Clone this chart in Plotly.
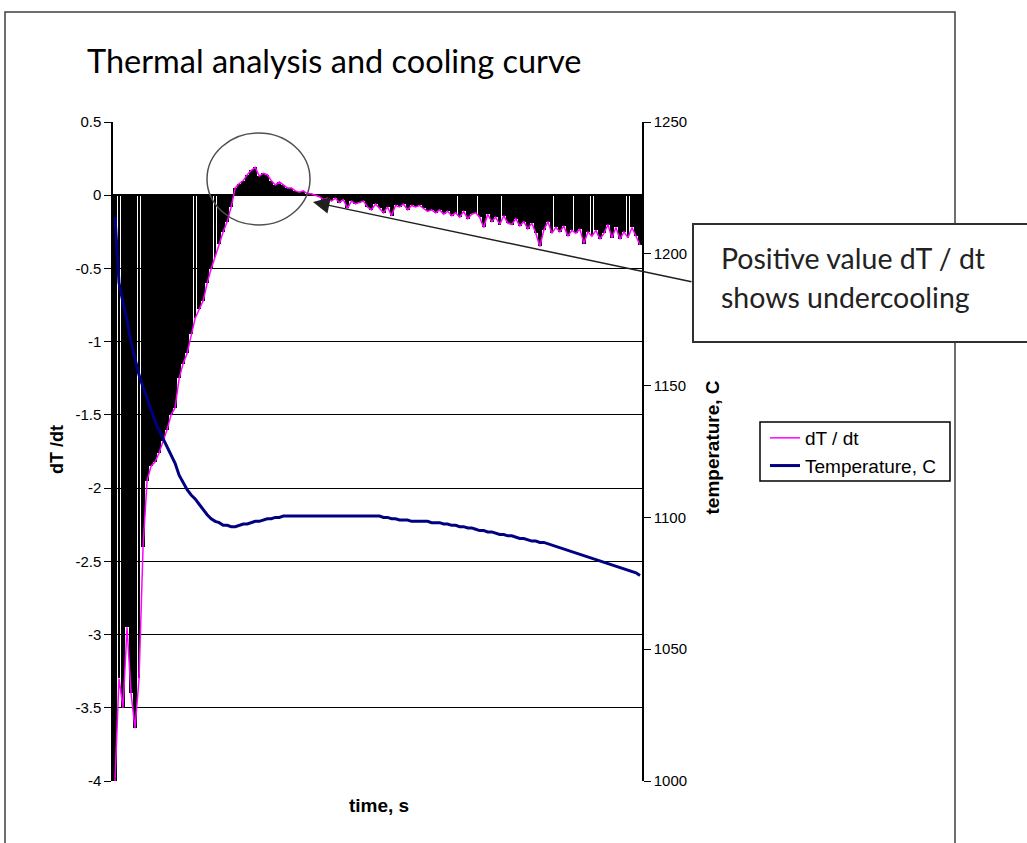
import plotly.graph_objects as go

# ---------------- data ----------------
dtdt = [-4.0, -3.3, -3.5, -2.95, -3.4, -3.64, -3.3, -2.4, -1.95, -1.85,
        -1.82, -1.76, -1.68, -1.6, -1.5, -1.45, -1.25, -1.15, -1.08, -0.95,
        -0.84, -0.78, -0.72, -0.6, -0.5, -0.42, -0.33, -0.25, -0.18, -0.08,
        0.05, 0.08, 0.1, 0.14, 0.17, 0.19, 0.13, 0.15, 0.14, 0.1,
        0.07, 0.09, 0.07, 0.05, 0.05, 0.03, 0.02, 0.03, 0.01, 0.01,
        0.0, -0.01, -0.03, -0.02, -0.04, -0.02, -0.05, -0.03, -0.09, -0.04,
        -0.06, -0.05, -0.04, -0.08, -0.1, -0.06, -0.09, -0.12, -0.08, -0.14,
        -0.07, -0.08, -0.06, -0.1, -0.07, -0.08, -0.07, -0.09, -0.11, -0.1,
        -0.12, -0.1, -0.13, -0.11, -0.14, -0.12, -0.15, -0.11, -0.16, -0.13,
        -0.12, -0.15, -0.22, -0.13, -0.18, -0.15, -0.2, -0.14, -0.19, -0.2,
        -0.16, -0.21, -0.18, -0.23, -0.19, -0.26, -0.35, -0.24, -0.18, -0.26,
        -0.22, -0.25, -0.21, -0.28, -0.24, -0.26, -0.23, -0.33, -0.25, -0.28,
        -0.24, -0.3, -0.26, -0.2, -0.29, -0.22, -0.3, -0.25, -0.29, -0.22,
        -0.28, -0.34]

temperature = [1214, 1189, 1181.5, 1175, 1166.5, 1160, 1154, 1149.5, 1145, 1140.5,
               1136.5, 1133, 1130, 1127, 1123.5, 1120.5, 1116, 1113, 1110.5, 1108.5,
               1107, 1105, 1103, 1101, 1099.5, 1098.5, 1098, 1097, 1097, 1096.5,
               1096.5, 1097, 1097.5, 1097.5, 1098, 1098.5, 1098.5, 1099, 1099.5, 1099.5,
               1100, 1100, 1100.5, 1100.5, 1100.5, 1100.5, 1100.5, 1100.5, 1100.5, 1100.5,
               1100.5, 1100.5, 1100.5, 1100.5, 1100.5, 1100.5, 1100.5, 1100.5, 1100.5, 1100.5,
               1100.5, 1100.5, 1100.5, 1100.5, 1100.5, 1100.5, 1100.5, 1100, 1100, 1099.5,
               1099.5, 1099, 1099, 1099, 1098.5, 1098.5, 1098.5, 1098.5, 1098.5, 1098,
               1098, 1098, 1097.5, 1097.5, 1097, 1097, 1096.5, 1096.5, 1096, 1096,
               1095.5, 1095, 1095, 1094.5, 1094.5, 1094, 1093.5, 1093.5, 1093, 1093,
               1092.5, 1092, 1092, 1091.5, 1091, 1091, 1090.5, 1090.5, 1090, 1089.5,
               1089, 1088.5, 1088, 1087.5, 1087, 1086.5, 1086, 1085.5, 1085, 1084.5,
               1084, 1083.5, 1083, 1082.5, 1082, 1081.5, 1081, 1080.5, 1080, 1079.5,
               1079, 1078]

time_s = list(range(len(dtdt)))

left_tickvals = [0.5, 0, -0.5, -1, -1.5, -2, -2.5, -3, -3.5, -4]
left_ticktext = ["0.5", "0", "-0.5", "-1", "-1.5", "-2", "-2.5", "-3", "-3.5", "-4"]
right_tickvals = [1000, 1050, 1100, 1150, 1200, 1250]
right_ticktext = ["1000", "1050", "1100", "1150", "1200", "1250"]

title_text = "Thermal analysis and cooling curve"
note_lines = ["Positive value dT / dt", "shows undercooling"]

# samples where the drop-line fill shows thin white gaps in the original
gap_samples = [1, 6, 20, 25, 85, 90, 96, 109, 114, 119, 128]

# ---------------- layout helpers (pixel -> paper) ----------------
W, H = 1027, 843
L, R, T, B = 113, 642, 122, 781


def xp(px):
    return (px - L) / (R - L)


def yp(py):
    return (B - py) / (B - T)


ARIAL = "Liberation Sans, Arial, sans-serif"
CAL = "Lato, Open Sans, sans-serif"

bar_widths = [0.45 if i in gap_samples else 1.0 for i in time_s]

fig = go.Figure()
fig.add_trace(go.Bar(x=time_s, y=dtdt, width=bar_widths,
                     marker=dict(color="black", line=dict(width=0)),
                     showlegend=False, hoverinfo="skip"))
fig.add_trace(go.Scatter(x=time_s, y=dtdt, mode="lines", name="dT / dt",
                         line=dict(color="#FF00FF", width=1.5)))
fig.add_trace(go.Scatter(x=time_s, y=temperature, mode="lines", name="Temperature, C",
                         yaxis="y2", line=dict(color="#000080", width=3)))

fig.update_layout(
    width=W, height=H,
    margin=dict(l=L, r=W - R, t=T, b=H - B, pad=0),
    paper_bgcolor="white", plot_bgcolor="white",
    bargap=0,
    showlegend=True,
    legend=dict(x=xp(765), y=yp(419), xanchor="left", yanchor="top",
                borderwidth=0, bgcolor="rgba(0,0,0,0)",
                font=dict(family=ARIAL, size=19, color="black"),
                tracegroupgap=0, itemwidth=30),
    xaxis=dict(range=[-0.5, len(dtdt) - 0.5], showticklabels=False, ticks="",
               showgrid=False, zeroline=False, showline=False),
    yaxis=dict(range=[-4, 0.5], tickvals=left_tickvals, ticktext=left_ticktext,
               ticks="outside", ticklen=7, tickcolor="black", tickwidth=1,
               showline=True, linecolor="black", linewidth=1.5,
               showgrid=True, gridcolor="black", gridwidth=1,
               zeroline=True, zerolinecolor="black", zerolinewidth=2,
               tickfont=dict(family=ARIAL, size=15, color="black")),
    yaxis2=dict(range=[1000, 1250], tickvals=right_tickvals, ticktext=right_ticktext,
                overlaying="y", side="right",
                ticks="outside", ticklen=7, tickcolor="black", tickwidth=1,
                showline=True, linecolor="black", linewidth=1.5,
                showgrid=False, zeroline=False,
                tickfont=dict(family=ARIAL, size=15, color="black")),
)

shapes = [
    # outer chart border
    dict(type="rect", xref="paper", yref="paper", x0=xp(5), x1=xp(955), y0=yp(870), y1=yp(12),
         line=dict(color="#404040", width=1.5), layer="below"),
    # legend frame
    dict(type="rect", xref="paper", yref="paper", x0=xp(760), x1=xp(950), y0=yp(481), y1=yp(422),
         line=dict(color="black", width=1.5), fillcolor="white", layer="below"),
    # ellipse around the positive peak
    dict(type="circle", xref="paper", yref="paper", x0=xp(207), x1=xp(310), y0=yp(225), y1=yp(133),
         line=dict(color="#505050", width=1.5), layer="above"),
    # callout box
    dict(type="rect", xref="paper", yref="paper", x0=xp(693), x1=xp(1045), y0=yp(342), y1=yp(224),
         line=dict(color="#303030", width=2), fillcolor="white", layer="above"),
]
fig.update_layout(shapes=shapes)

annotations = [
    dict(text=title_text, x=xp(85), y=yp(60), xref="paper", yref="paper", xanchor="left",
         yanchor="middle", showarrow=False, font=dict(family=CAL, size=32.5, color="black")),
    dict(text=note_lines[0], x=xp(719), y=yp(258), xref="paper", yref="paper", xanchor="left",
         yanchor="middle", showarrow=False, font=dict(family=CAL, size=28.5, color="#222222")),
    dict(text=note_lines[1], x=xp(719), y=yp(297), xref="paper", yref="paper", xanchor="left",
         yanchor="middle", showarrow=False, font=dict(family=CAL, size=28.5, color="#222222")),
    dict(text="", x=xp(313), y=yp(202), xref="paper", yref="paper", showarrow=True,
         ax=693 - 313, ay=282 - 202, axref="pixel", ayref="pixel",
         arrowhead=2, arrowsize=2.2, arrowwidth=1.5, arrowcolor="#202020"),
    dict(text="<b>dT /dt</b>", x=xp(45), y=yp(450), xref="paper", yref="paper", textangle=-90,
         showarrow=False, font=dict(family=ARIAL, size=18, color="black")),
    dict(text="<b>temperature, C</b>", x=xp(724), y=yp(448), xref="paper", yref="paper", textangle=-90,
         showarrow=False, font=dict(family=ARIAL, size=19, color="black")),
    dict(text="<b>time, s</b>", x=xp(379), y=yp(818), xref="paper", yref="paper",
         showarrow=False, font=dict(family=ARIAL, size=19, color="black")),
]
fig.update_layout(annotations=annotations)

fig.write_html("out.html", config={"displayModeBar": False},
               post_script="document.body.style.margin='0';")
